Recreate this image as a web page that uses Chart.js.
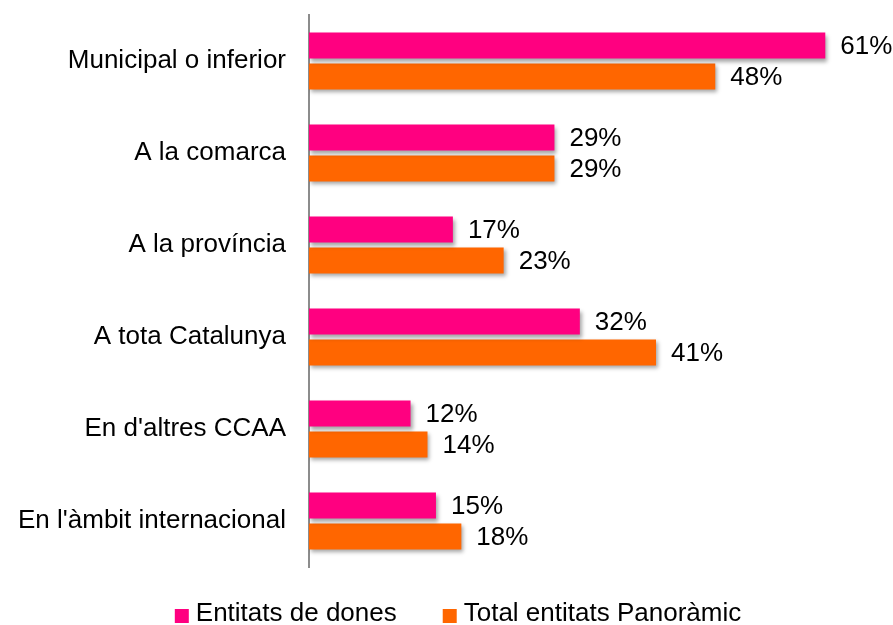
<!DOCTYPE html>
<html>
<head>
<meta charset="utf-8">
<script src="https://cdn.jsdelivr.net/npm/chart.js@4/dist/chart.umd.min.js"></script>
<style>
  html, body { margin: 0; padding: 0; background: #fff; }
  #wrap { width: 893px; height: 625px; }
</style>
</head>
<body>
<div id="wrap"><canvas id="chart"></canvas></div>
<script>
// Dades
const categories = ['Municipal o inferior', 'A la comarca', 'A la província', 'A tota Catalunya', "En d'altres CCAA", "En l'àmbit internacional"];
const entitatsDones = [61, 29, 17, 32, 12, 15];
const totalPanoramic = [48, 29, 23, 41, 14, 18];
const seriesNames = ['Entitats de dones', 'Total entitats Panoràmic'];
const seriesColors = ['#FF0080', '#FF6600'];

const FONT = "'Liberation Sans', Arial, sans-serif";
const FONT_SIZE = 26;

// Ombra sota les barres
const shadowPlugin = {
    id: 'barShadow',
    beforeDatasetsDraw(chart) {
        const c = chart.ctx;
        c.save();
        c.shadowColor = 'rgba(0,0,0,0.35)';
        c.shadowBlur = 4;
        c.shadowOffsetX = 2;
        c.shadowOffsetY = 3;
    },
    afterDatasetsDraw(chart) {
        chart.ctx.restore();
    }
};

// Etiquetes de valor al final de cada barra
const valueLabels = {
    id: 'valueLabels',
    afterDatasetsDraw(chart) {
        const c = chart.ctx;
        c.save();
        c.font = FONT_SIZE + 'px ' + FONT;
        c.fillStyle = '#000';
        c.textAlign = 'left';
        c.textBaseline = 'middle';
        chart.data.datasets.forEach((ds, i) => {
            chart.getDatasetMeta(i).data.forEach((bar, j) => {
                c.fillText(ds.data[j] + '%', bar.x + 15, bar.y + 1);
            });
        });
        c.restore();
    }
};

// Llegenda a sota (dibuixada a mà per controlar els espais)
const bottomLegend = {
    id: 'bottomLegend',
    afterDraw(chart) {
        const c = chart.ctx;
        c.save();
        c.font = FONT_SIZE + 'px ' + FONT;
        c.textBaseline = 'middle';
        const box = 14, boxGap = 7, itemGap = 46;
        const widths = seriesNames.map(n => c.measureText(n).width);
        let total = 0;
        widths.forEach((w, i) => { total += box + boxGap + w + (i > 0 ? itemGap : 0); });
        let x = 458 - total / 2;
        const y = 614;
        seriesNames.forEach((name, i) => {
            c.fillStyle = seriesColors[i];
            c.fillRect(x, y - box / 2 + 2, box, box);
            c.fillStyle = '#000';
            c.fillText(name, x + box + boxGap, y);
            x += box + boxGap + widths[i] + itemGap;
        });
        c.restore();
    }
};

new Chart(document.getElementById('chart'), {
    type: 'bar',
    data: {
        labels: categories,
        datasets: [{
            label: seriesNames[0],
            data: entitatsDones,
            backgroundColor: seriesColors[0],
            categoryPercentage: 0.672,
            barPercentage: 0.84
        }, {
            label: seriesNames[1],
            data: totalPanoramic,
            backgroundColor: seriesColors[1],
            categoryPercentage: 0.672,
            barPercentage: 0.84
        }]
    },
    options: {
        indexAxis: 'y',
        responsive: true,
        maintainAspectRatio: false,
        animation: false,
        layout: { padding: { top: 15, right: 0, bottom: 58, left: 0 } },
        scales: {
            x: {
                display: false,
                min: 0,
                max: 69
            },
            y: {
                afterFit(scale) {
                    scale.width = 309;
                    scale.paddingTop = 0;
                    scale.paddingBottom = 0;
                },
                grid: { display: false, drawTicks: false },
                border: { display: true, color: '#8c8c8c', width: 2 },
                ticks: {
                    color: '#000',
                    padding: 23,
                    font: { family: FONT, size: FONT_SIZE }
                }
            }
        },
        plugins: {
            legend: { display: false },
            tooltip: { enabled: false }
        }
    },
    plugins: [shadowPlugin, valueLabels, bottomLegend]
});
</script>
</body>
</html>
